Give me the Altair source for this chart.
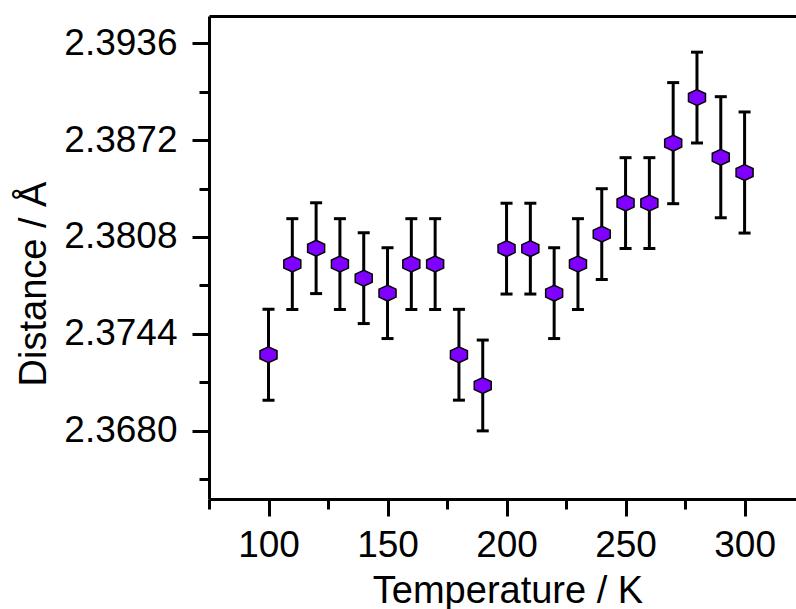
import altair as alt
import pandas as pd

temperature = [100, 110, 120, 130, 140, 150, 160, 170, 180, 190, 200,
               210, 220, 230, 240, 250, 260, 270, 280, 290, 300]
distance = [2.37302, 2.37901, 2.38006, 2.37901, 2.37808, 2.37709, 2.37901,
            2.37901, 2.37302, 2.37099, 2.38003, 2.38003, 2.37709, 2.37901,
            2.38099, 2.38304, 2.38304, 2.38700, 2.39001, 2.38607, 2.38506]
error = [0.003, 0.003, 0.003, 0.003, 0.003, 0.003, 0.003, 0.003, 0.003, 0.003,
         0.003, 0.003, 0.003, 0.003, 0.003, 0.003, 0.003, 0.004, 0.003, 0.004, 0.004]

x_major = [100, 150, 200, 250, 300]
x_minor = [75, 125, 175, 225, 275]
y_major = [2.3680, 2.3744, 2.3808, 2.3872, 2.3936]
y_minor = [2.3648, 2.3712, 2.3776, 2.3840, 2.3904]

df = pd.DataFrame({"T": temperature, "D": distance, "err": error})
df["lo"] = df["D"] - df["err"]
df["hi"] = df["D"] + df["err"]

FONT = "Liberation Sans"
xs = alt.Scale(domain=[75, 321.6], nice=False, zero=False)
ys = alt.Scale(domain=[2.36349, 2.39540], nice=False, zero=False)

common = dict(domainColor="black", tickColor="black", labelColor="black",
              titleColor="black", grid=False, labelFont=FONT, titleFont=FONT,
              tickWidth=3, domainWidth=3)

x_main = alt.Axis(orient="bottom", values=x_major, tickSize=17, labelFontSize=37,
                  labelPadding=11, labelFlush=False, title="Temperature / K",
                  titleFontSize=38, titleFontWeight="normal", titleX=298.5,
                  titleY=103, titleBaseline="alphabetic", titleAlign="center",
                  **common)
y_main = alt.Axis(orient="left", values=y_major, format=".4f", tickSize=17,
                  labelFontSize=37, labelPadding=15, labelFlush=False,
                  title="Distance / Å", titleFontSize=38, titleFontWeight="normal",
                  titleAngle=270, titleX=-164, titleY=267.5,
                  titleBaseline="alphabetic", titleAlign="center", **common)

x_min_axis = alt.Axis(orient="bottom", values=x_minor, tickSize=10, labels=False,
                      domain=False, title=None, **common)
y_min_axis = alt.Axis(orient="left", values=y_minor, tickSize=10, labels=False,
                      domain=False, title=None, **common)
x_top_axis = alt.Axis(orient="top", ticks=False, labels=False, domain=True,
                      title=None, **common)

base = alt.Chart(df)

bars = base.mark_rule(color="black", strokeWidth=3).encode(
    x=alt.X("T:Q", scale=xs, axis=x_main),
    y=alt.Y("lo:Q", scale=ys, axis=y_main),
    y2="hi:Q",
)

caps = base.transform_fold(["lo", "hi"], as_=["end", "value"]).mark_tick(
    orient="horizontal", size=12, thickness=3, color="black", opacity=1
).encode(
    x=alt.X("T:Q", scale=xs, axis=x_min_axis),
    y=alt.Y("value:Q", scale=ys, axis=y_min_axis),
)

hexagon = "M0,-0.93L1,-0.47L1,0.47L0,0.93L-1,0.47L-1,-0.47Z"
points = base.mark_point(
    shape=hexagon, size=289, filled=True, fill="#8000FF", stroke="black",
    strokeWidth=1.5, opacity=1, fillOpacity=1, strokeOpacity=1
).encode(
    x=alt.X("T:Q", scale=xs, axis=x_top_axis),
    y=alt.Y("D:Q", scale=ys, axis=None),
)

chart = alt.layer(bars, caps, points).resolve_axis(
    x="independent", y="independent"
).properties(
    width=587, height=483,
    autosize=alt.AutoSizeParams(type="none"),
    padding={"left": 209, "top": 16, "right": 0, "bottom": 110},
    background="white",
).configure_view(stroke=None)

chart.save("out.html", embed_options={"renderer": "svg", "actions": False})
